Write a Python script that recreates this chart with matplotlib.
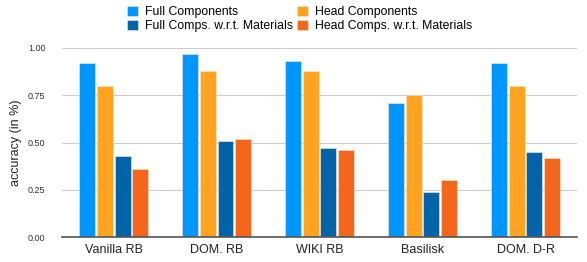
import matplotlib.pyplot as plt
import numpy as np

plt.rcParams['font.family'] = ['Liberation Sans', 'DejaVu Sans']

# data
models = ['Vanilla RB', 'DOM. RB', 'WIKI RB', 'Basilisk', 'DOM. D-R']
full_comp = [0.92, 0.97, 0.93, 0.71, 0.92]
head_comp = [0.80, 0.88, 0.88, 0.75, 0.80]
full_mat = [0.43, 0.51, 0.47, 0.24, 0.45]
head_mat = [0.36, 0.52, 0.46, 0.30, 0.42]

series = [
    ('Full Components', full_comp, '#0096FF'),
    ('Head Components', head_comp, '#FFA321'),
    ('Full Comps. w.r.t. Materials', full_mat, '#0065A8'),
    ('Head Comps. w.r.t. Materials', head_mat, '#F4661B'),
]

fig = plt.figure(figsize=(5.87, 2.62), dpi=100)
ax = fig.add_axes([0.106, 0.095, 0.877, 0.722])

x = np.arange(len(models))
slot = 0.172
width = 0.155
bars = {}
for i, (name, vals, col) in enumerate(series):
    bars[name] = ax.bar(x + (i - 1.5) * slot, vals, width, color=col,
                        edgecolor='#fde8d8', linewidth=0.4, label=name, zorder=3)

ax.set_xlim(-0.5, 4.5)
ax.set_ylim(0, 1.0)
ax.set_yticks([0, 0.25, 0.5, 0.75, 1.0])
ax.set_yticklabels(['0.00', '0.25', '0.50', '0.75', '1.00'])
ax.set_xticks(x)
ax.set_xticklabels(models)
ax.tick_params(axis='y', length=0, labelsize=6.5, colors='#333333', pad=12)
ax.tick_params(axis='x', length=0, labelsize=9, colors='#222222', pad=5)
ax.grid(axis='y', color='#cccccc', linewidth=0.8, zorder=0)
for s in ['top', 'right', 'left']:
    ax.spines[s].set_visible(False)
ax.spines['bottom'].set_color('#555555')
ax.spines['bottom'].set_linewidth(1.2)
ax.spines['bottom'].set_zorder(4)
ax.set_ylabel('accuracy (in %)', fontsize=9, color='#222222', labelpad=4)

order = ['Full Components', 'Full Comps. w.r.t. Materials',
         'Head Components', 'Head Comps. w.r.t. Materials']
fig.legend([bars[n] for n in order], order, ncol=2, loc='upper center',
           bbox_to_anchor=(0.51, 1.005), frameon=False, fontsize=8.8,
           handlelength=0.9, handleheight=0.9, handletextpad=0.6,
           columnspacing=0.3, labelspacing=0.15, borderaxespad=0.2)

fig.savefig('out.png', dpi=100)
